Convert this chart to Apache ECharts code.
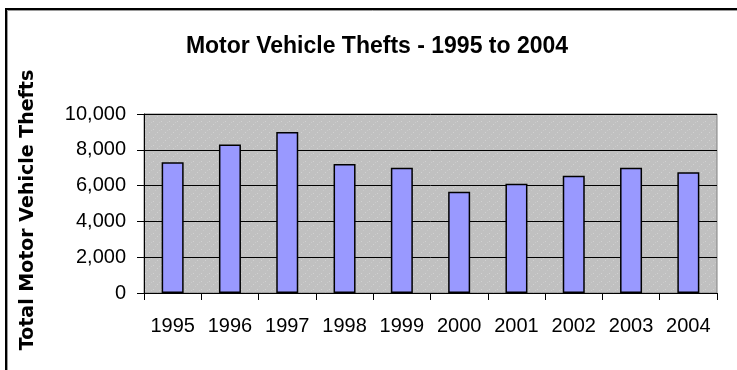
<!DOCTYPE html>
<html>
<head>
<meta charset="utf-8">
<style>
  html, body { margin: 0; padding: 0; background: #ffffff; }
  #chart { width: 737px; height: 370px; }
</style>
<script src="https://cdn.jsdelivr.net/npm/echarts@6/dist/echarts.min.js"></script>
</head>
<body>
<div id="chart"></div>
<script>
// Motor vehicle thefts per year
const years = ['1995', '1996', '1997', '1998', '1999', '2000', '2001', '2002', '2003', '2004'];
const thefts = [7300, 8300, 9000, 7200, 7000, 5650, 6100, 6550, 7000, 6750];
const yTicks = { min: 0, max: 10000, interval: 2000 };

// Speckled grey fill for the plot area
function speckle() {
  const c = document.createElement('canvas');
  c.width = 8; c.height = 8;
  const g = c.getContext('2d');
  g.fillStyle = '#c0c0c0';
  g.fillRect(0, 0, 8, 8);
  g.fillStyle = '#d2d2d2';
  g.fillRect(1, 1, 1, 1);
  g.fillRect(5, 4, 1, 1);
  g.fillStyle = '#cacaca';
  g.fillRect(3, 6, 1, 1);
  g.fillRect(7, 2, 1, 1);
  return c;
}

const chart = echarts.init(document.getElementById('chart'), null, { renderer: 'canvas' });
chart.setOption({
  animation: false,
  backgroundColor: '#ffffff',
  title: {
    text: 'Motor Vehicle Thefts - 1995 to 2004',
    left: 372,
    textAlign: 'center',
    top: 30,
    textStyle: {
      fontFamily: 'Liberation Sans, Arial, sans-serif',
      fontWeight: 'bold',
      fontSize: 23,
      color: '#000000'
    }
  },
  grid: {
    left: 144,
    right: 20,
    top: 114,
    bottom: 77,
    show: true,
    backgroundColor: { image: speckle(), repeat: 'repeat' },
    borderColor: '#808080',
    borderWidth: 1
  },
  xAxis: {
    type: 'category',
    data: years,
    boundaryGap: true,
    axisLine: { show: true, lineStyle: { color: '#000000', width: 1 } },
    axisTick: { show: true, inside: false, length: 7, lineStyle: { color: '#000000' } },
    axisLabel: {
      interval: 0,
      hideOverlap: false,
      margin: 23,
      fontFamily: 'Liberation Sans, Arial, sans-serif',
      fontSize: 20,
      color: '#000000'
    },
    splitLine: { show: false }
  },
  yAxis: {
    type: 'value',
    min: yTicks.min,
    max: yTicks.max,
    interval: yTicks.interval,
    axisLine: { show: true, lineStyle: { color: '#000000', width: 1 } },
    axisTick: { show: true, inside: false, length: 7, lineStyle: { color: '#000000' } },
    axisLabel: {
      margin: 18,
      fontFamily: 'Liberation Sans, Arial, sans-serif',
      fontSize: 20,
      color: '#000000',
      formatter: function (v) { return v.toLocaleString('en-US'); }
    },
    splitLine: { show: true, lineStyle: { color: '#000000', width: 1 } }
  },
  series: [{
    type: 'bar',
    data: thefts,
    barWidth: 22,
    itemStyle: {
      color: '#9999ff',
      borderColor: '#000000',
      borderWidth: 1.5
    }
  }],
  graphic: [
    // chart frame (shadowed edge)
    {
      type: 'rect',
      shape: { x: 6, y: 9, width: 760, height: 400 },
      style: { fill: 'none', stroke: '#000000', lineWidth: 2 },
      silent: true,
      z: 10
    },
    {
      type: 'polyline',
      shape: { points: [[7.5, 400], [7.5, 10.5], [760, 10.5]] },
      style: { fill: 'none', stroke: '#9a9a9a', lineWidth: 1 },
      silent: true,
      z: 10
    },
    // value axis title
    {
      type: 'text',
      x: 28.5,
      y: 210,
      rotation: Math.PI / 2,
      style: {
        text: 'Total Motor Vehicle Thefts',
        fontFamily: 'DejaVu Sans, Verdana, sans-serif',
        fontWeight: 'bold',
        fontSize: 19,
        fill: '#000000',
        textAlign: 'center',
        textVerticalAlign: 'middle'
      },
      z: 10
    }
  ]
});
</script>
</body>
</html>
